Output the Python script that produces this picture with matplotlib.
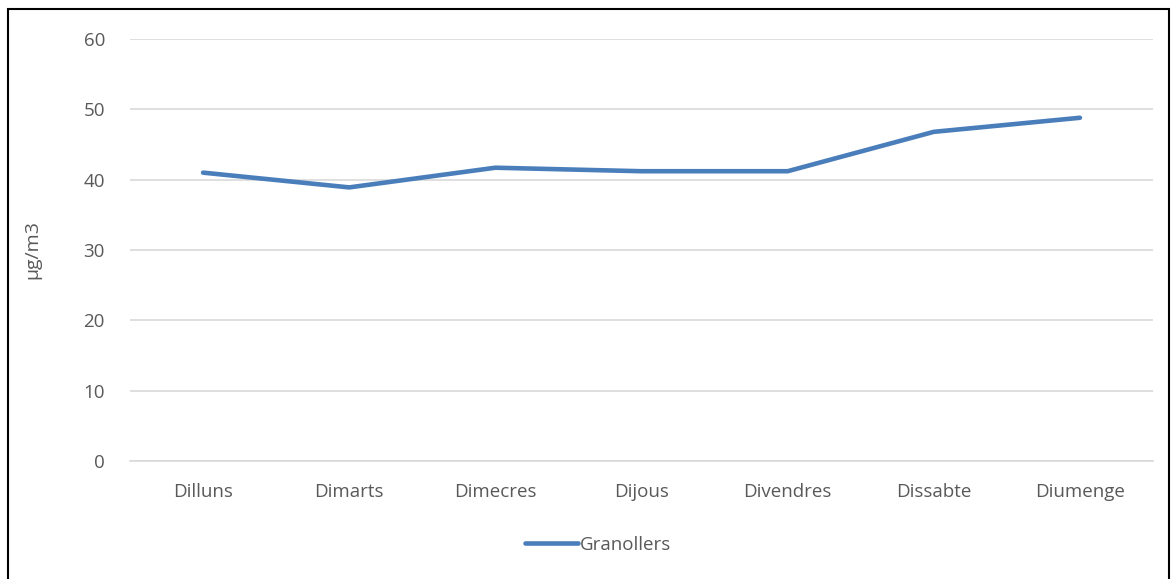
import matplotlib.pyplot as plt
from matplotlib.patches import Rectangle

# weekday averages, Granollers
days = ["Dilluns", "Dimarts", "Dimecres", "Dijous", "Divendres", "Dissabte", "Diumenge"]
granollers = [41.0, 38.9, 41.7, 41.2, 41.2, 46.8, 48.8]
yticks = [0, 10, 20, 30, 40, 50, 60]

plt.rcParams['font.family'] = ['Open Sans', 'DejaVu Sans']
txt = "#595959"

fig = plt.figure(figsize=(11.76, 5.79), dpi=100)
ax = fig.add_axes([130 / 1176, 1 - 461 / 579, 1023 / 1176, 422 / 579])

x = range(len(days))
ax.plot(x, granollers, color="#4a7ebb", linewidth=3.3, solid_capstyle="round",
        solid_joinstyle="round", label="Granollers")

ax.set_xlim(-0.5, len(days) - 0.5)
ax.set_ylim(0, 60)
ax.set_yticks(yticks)
ax.set_xticks(list(x))
ax.set_xticklabels(days)
ax.yaxis.grid(True, color="#d9d9d9", linewidth=1.2)
ax.set_axisbelow(True)
for s in ["top", "right", "left"]:
    ax.spines[s].set_visible(False)
ax.spines["bottom"].set_color("#d9d9d9")
ax.spines["bottom"].set_linewidth(1.2)
ax.tick_params(length=0, labelsize=13.5, colors=txt)
ax.tick_params(axis="x", pad=16)
ax.tick_params(axis="y", pad=18)
ax.set_ylabel("µg/m3", fontsize=14, color=txt, labelpad=30)

fig.legend(loc="center", bbox_to_anchor=(598 / 1176, 1 - 545 / 579), frameon=False,
           fontsize=13.5, labelcolor=txt, handlelength=2.8, handletextpad=0.1)

fig.patches.append(Rectangle((8 / 1176, -0.01), 1161 / 1176, 1 - 9 / 579 + 0.01,
                             transform=fig.transFigure, fill=False,
                             edgecolor="black", linewidth=1.5))

fig.savefig("out.png", dpi=100)
